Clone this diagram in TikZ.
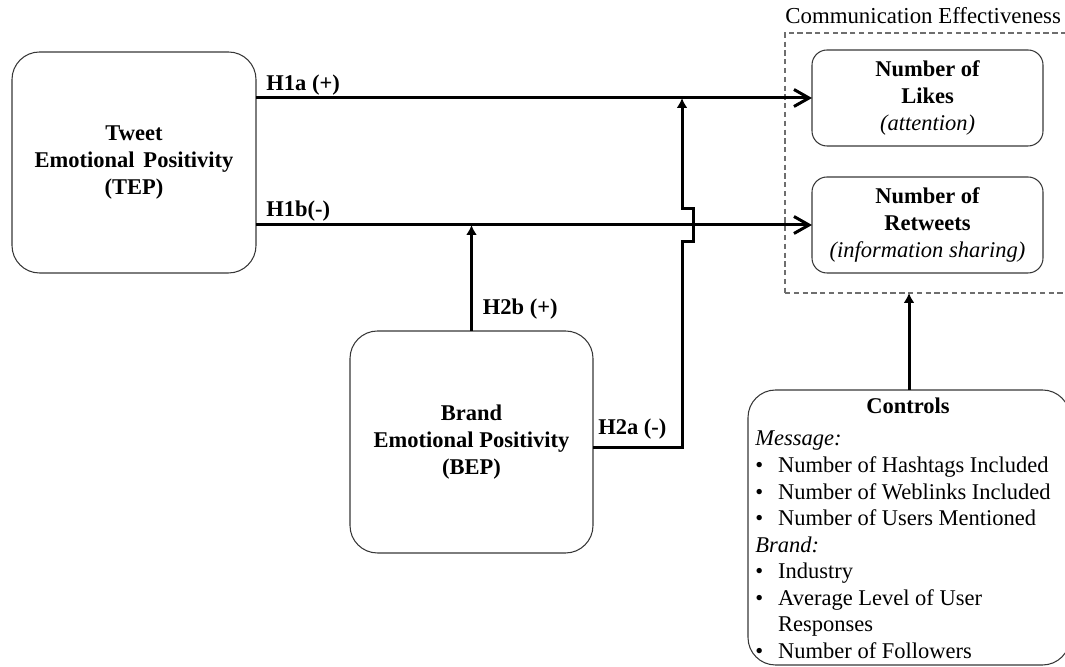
\documentclass[tikz,border=0pt]{standalone}
\usepackage{fontspec}
\setmainfont{Liberation Serif}
\definecolor{boxgray}{RGB}{55,55,55}
\definecolor{dashgray}{RGB}{110,110,110}
\usetikzlibrary{arrows.meta,positioning,calc}

\begin{document}
\begin{tikzpicture}[
  font=\fontsize{12.8}{15.3}\selectfont,
  varbox/.style={draw=boxgray,line width=0.6pt,rounded corners=0.55cm,align=center,
    font=\fontsize{12.8}{15.3}\selectfont\bfseries,inner sep=0pt,outer sep=0pt},
  outbox/.style={varbox,rounded corners=0.3cm,minimum width=4.62cm,minimum height=1.92cm},
  effbox/.style={draw=dashgray,line width=0.6pt,dash pattern=on 3pt off 2pt,
    minimum width=6.1cm,minimum height=5.2cm,inner sep=0pt,outer sep=0pt},
  hyp/.style={line width=1.7pt,-{Straight Barb[length=3mm,width=3.4mm]}},
  mod/.style={line width=1.7pt,line join=miter,-{Latex[length=2mm,width=2.2mm]}},
  hlabel/.style={font=\fontsize{12.8}{15.3}\selectfont\bfseries,inner sep=0pt,anchor=base west}
]
  \useasboundingbox (0,0) rectangle (21.3,13.34);

  % construct boxes
  \node[varbox,minimum width=4.88cm,minimum height=4.42cm] (tep) at (2.68,10.09)
    {Tweet\\Emotional\hspace{0.4em}Positivity\\(TEP)};
  \node[varbox,minimum width=4.86cm,minimum height=4.44cm] (bep) at (9.43,4.50)
    {Brand\\Emotional Positivity\\(BEP)};

  % outcomes
  \node[effbox] (ce) at (18.75,10.08) {};
  \node[anchor=base west,inner sep=0pt,font=\fontsize{13}{15.3}\selectfont] (cetitle)
    at ([yshift=0.18cm]ce.north west) {Communication Effectiveness};
  \node[outbox] (likes) at (18.55,11.38) {Number of\\Likes\\{\mdseries\itshape (attention)}};
  \node[outbox] (retweets) at (18.55,8.84) {Number of\\Retweets\\{\mdseries\itshape (information sharing)}};

  % controls
  \node[varbox,minimum width=6.44cm,minimum height=5.5cm] (controls) at (18.18,2.79) {};
  \node[font=\fontsize{12.8}{15.3}\selectfont\bfseries,anchor=base,inner sep=0pt] (ctrltitle) at (18.16,5.06) {Controls};
  \node[anchor=base west,inner sep=0pt,font=\fontsize{12.8}{15.1}\selectfont] (ctrllist) at (15.10,4.42)
    {\begin{tabular}[t]{@{}l@{\hspace{0.3cm}}l@{}}
      \multicolumn{2}{@{}l}{\textit{Message:}}\\
      \textbullet & Number of Hashtags Included\\
      \textbullet & Number of Weblinks Included\\
      \textbullet & Number of Users Mentioned\\
      \multicolumn{2}{@{}l}{\textit{Brand:}}\\
      \textbullet & Industry\\
      \textbullet & Average Level of User\\
                  & Responses\\
      \textbullet & Number of Followers
    \end{tabular}};

  % hypotheses
  \draw[hyp] (tep.east |- likes.west) -- (likes.west)
    node[hlabel,pos=0,xshift=0.18cm,yshift=0.15cm] (h1a) {H1a (+)};
  \draw[hyp] (tep.east |- retweets.west) -- (retweets.west)
    node[hlabel,pos=0,xshift=0.18cm,yshift=0.17cm] (h1b) {H1b(-)};
  \draw[mod] (bep.north) -- (bep.north |- retweets.west)
    node[hlabel,pos=0,xshift=0.2cm,yshift=0.32cm] (h2b) {H2b (+)};
  \coordinate (h2ax) at (13.64,0);
  \draw[mod] ([yshift=-0.12cm]bep.east) -| ($(h2ax |- retweets.west)+(0,-0.33)$)
    -- ++(0.22,0) -- ++(0,0.66) -- ++(-0.22,0) -- (h2ax |- likes.west);
  \node[hlabel] (h2a) at ([xshift=0.1cm,yshift=0.14cm]bep.east) {H2a (-)};
  \draw[mod] (controls.north) -- (controls.north |- ce.south);
\end{tikzpicture}
\end{document}
